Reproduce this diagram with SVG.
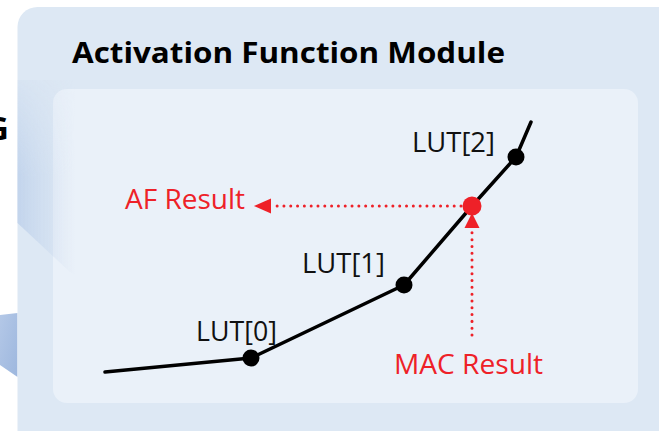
<svg xmlns="http://www.w3.org/2000/svg" width="659" height="431" viewBox="0 0 659 431">
  <defs>
    <style>
      .title { font-family: "Open Sans", "Liberation Sans", sans-serif; font-weight: 700; font-size: 28px; fill: #000; }
      .lut { font-family: "Open Sans", "Liberation Sans", sans-serif; font-size: 28px; fill: #111; }
      .res { font-family: "Open Sans", "Liberation Sans", sans-serif; font-size: 27.5px; fill: #ee2128; }
      .curve { fill: none; stroke: #000; stroke-width: 3.5; stroke-linejoin: round; stroke-linecap: round; }
      .knot { fill: #000; }
      .dotted { fill: none; stroke: #ee2128; stroke-width: 3; stroke-linecap: round; stroke-dasharray: 0.01 6.8; }
      .head { fill: #ee2128; }
    </style>
    <linearGradient id="wedge" x1="0" y1="0" x2="1" y2="1">
      <stop offset="0" stop-color="#b4c8e7"/>
      <stop offset="1" stop-color="#9db7de"/>
    </linearGradient>
    <linearGradient id="haze" x1="17" y1="0" x2="75" y2="0" gradientUnits="userSpaceOnUse">
      <stop offset="0" stop-color="#b9cde9" stop-opacity="0.75"/>
      <stop offset="1" stop-color="#c9d9ee" stop-opacity="0"/>
    </linearGradient>
    <linearGradient id="hazeV" x1="0" y1="80" x2="0" y2="272" gradientUnits="userSpaceOnUse">
      <stop offset="0" stop-color="#fff" stop-opacity="0.2"/>
      <stop offset="0.5" stop-color="#fff" stop-opacity="1"/>
      <stop offset="1" stop-color="#fff" stop-opacity="1"/>
    </linearGradient>
    <mask id="hazeMask">
      <rect x="0" y="0" width="100" height="300" fill="url(#hazeV)"/>
    </mask>
  </defs>

  <!-- neighbouring block, cut off at the left edge -->
  <text x="-15" y="140" style="font-family: 'Open Sans', 'Liberation Sans', sans-serif; font-weight: 700; font-size: 33px; fill: #000;">G</text>
  <polygon points="0,315 17.5,313 17.5,377 0,365" fill="url(#wedge)"/>

  <!-- module frame -->
  <g id="module">
    <rect x="17.5" y="7" width="660" height="444" rx="20" fill="#dde8f4"/>
    <rect x="53" y="89" width="585" height="314" rx="14" fill="#eaf1f9"/>
    <polygon points="17.5,80 75,80 75,275 70,272 17.5,223" fill="url(#haze)" mask="url(#hazeMask)"/>
    <text class="title" x="72" y="63" textLength="433" lengthAdjust="spacingAndGlyphs">Activation Function Module</text>
  </g>

  <!-- piecewise-linear activation curve -->
  <g id="curve">
    <polyline class="curve" points="105,372 251,358 404,285 472,206 516,157 531,122"/>
  </g>

  <g id="lut0">
    <circle class="knot" cx="251" cy="358" r="8.5"/>
    <text class="lut" x="196" y="341" textLength="81" lengthAdjust="spacingAndGlyphs">LUT[0]</text>
  </g>
  <g id="lut1">
    <circle class="knot" cx="404" cy="285" r="8.5"/>
    <text class="lut" x="302" y="273" textLength="83" lengthAdjust="spacingAndGlyphs">LUT[1]</text>
  </g>
  <g id="lut2">
    <circle class="knot" cx="516" cy="157" r="8.5"/>
    <text class="lut" x="412" y="152" textLength="83" lengthAdjust="spacingAndGlyphs">LUT[2]</text>
  </g>
  <g id="point">
    <circle cx="472" cy="206" r="9.5" fill="#ee2128"/>
  </g>
  <g id="af-result">
    <text class="res" x="125" y="209" textLength="120" lengthAdjust="spacingAndGlyphs">AF Result</text>
  </g>
  <g id="mac-result">
    <text class="res" x="394" y="374" textLength="149" lengthAdjust="spacingAndGlyphs">MAC Result</text>
  </g>

  <!-- dotted lookup arrows -->
  <g id="connectors">
    <path class="dotted" d="M472,335 L472,229"/>
    <polygon class="head" points="472,213 479.5,228 464.5,228"/>
    <path class="dotted" d="M461,206 L275,206"/>
    <polygon class="head" points="254,206 271,198.5 271,213.5"/>
  </g>
</svg>
